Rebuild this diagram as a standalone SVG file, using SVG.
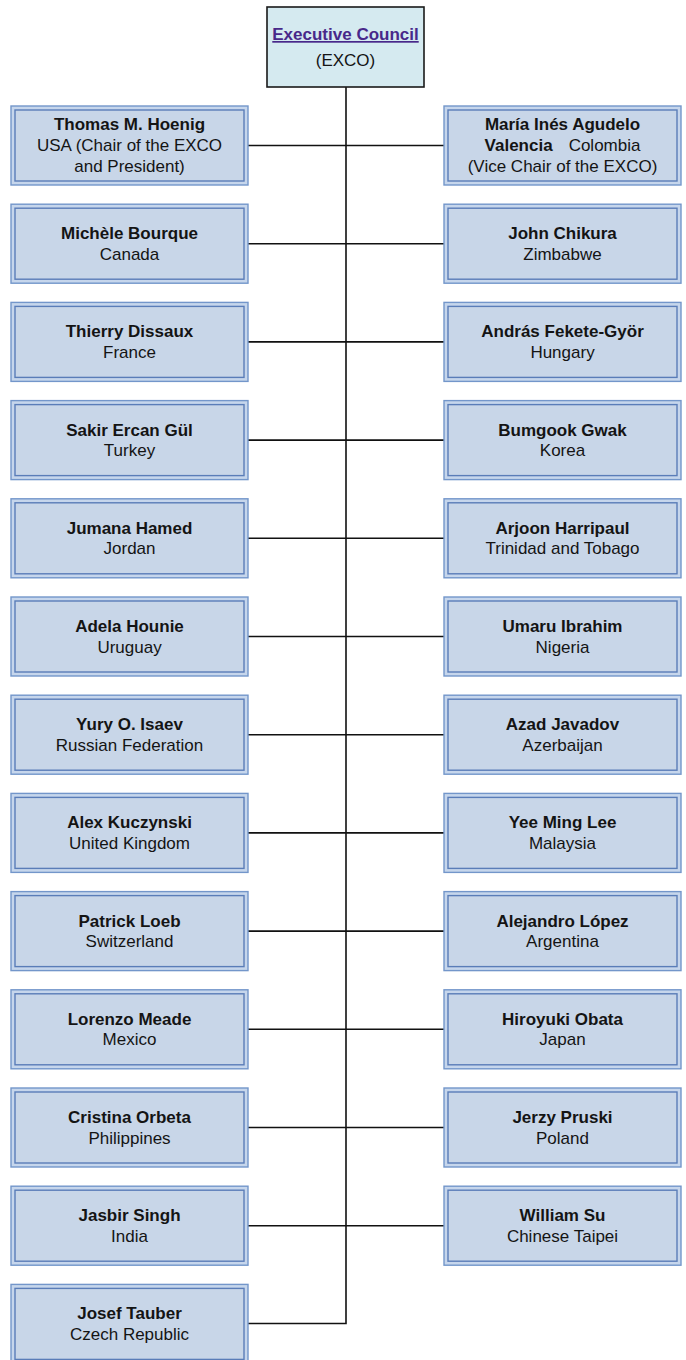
<svg xmlns="http://www.w3.org/2000/svg" width="686" height="1360" viewBox="0 0 686 1360">
<style>
.bg{fill:#ffffff}
.top{fill:#d5eaf0;stroke:#1a1a1a;stroke-width:1.6}
.out{fill:#c6d6ec;stroke:#7396ca;stroke-width:1.4}
.inn{fill:#c8d6e8;stroke:#5a7db8;stroke-width:1.4}
text{font-family:"Liberation Sans",Arial,sans-serif;font-size:17px;fill:#141414;text-anchor:middle}
.b{font-weight:bold}
.ttl{font-weight:bold;fill:#48288a;text-decoration:underline}
.conn{fill:none;stroke:#111111;stroke-width:1.6}
</style>
<rect class="bg" x="0" y="0" width="686" height="1360"/>
<g id="connectors">
<path class="conn" d="M346,87 V1323.5 H248"/>
<path class="conn" d="M248,145.5 H444 M248,243.7 H444 M248,341.9 H444 M248,440.1 H444 M248,538.3 H444 M248,636.5 H444 M248,734.7 H444 M248,832.9 H444 M248,931.1 H444 M248,1029.3 H444 M248,1127.5 H444 M248,1225.7 H444"/>
</g>
<g id="exco">
<rect class="top" x="267" y="7" width="157" height="80"/>
<text class="ttl" x="345.5" y="40">Executive Council</text>
<text x="345.5" y="66">(EXCO)</text>
</g>
<defs>
<g id="boxL"><rect class="out" x="0" y="0" width="237" height="79"/><rect class="inn" x="4" y="4" width="229" height="71"/></g>
</defs>
<g id="hoenig" transform="translate(11,106)"><use href="#boxL"/><g transform="translate(118.5,0)"><text class="b" x="0" y="24">Thomas M. Hoenig</text><text x="0" y="45">USA (Chair of the EXCO</text><text x="0" y="66">and President)</text></g></g>
<g id="bourque" transform="translate(11,204.2)"><use href="#boxL"/><g transform="translate(118.5,0)"><text class="b" x="0" y="35">Michèle Bourque</text><text x="0" y="55.5">Canada</text></g></g>
<g id="dissaux" transform="translate(11,302.4)"><use href="#boxL"/><g transform="translate(118.5,0)"><text class="b" x="0" y="35">Thierry Dissaux</text><text x="0" y="55.5">France</text></g></g>
<g id="gul" transform="translate(11,400.6)"><use href="#boxL"/><g transform="translate(118.5,0)"><text class="b" x="0" y="35">Sakir Ercan Gül</text><text x="0" y="55.5">Turkey</text></g></g>
<g id="hamed" transform="translate(11,498.8)"><use href="#boxL"/><g transform="translate(118.5,0)"><text class="b" x="0" y="35">Jumana Hamed</text><text x="0" y="55.5">Jordan</text></g></g>
<g id="hounie" transform="translate(11,597)"><use href="#boxL"/><g transform="translate(118.5,0)"><text class="b" x="0" y="35">Adela Hounie</text><text x="0" y="55.5">Uruguay</text></g></g>
<g id="isaev" transform="translate(11,695.2)"><use href="#boxL"/><g transform="translate(118.5,0)"><text class="b" x="0" y="35">Yury O. Isaev</text><text x="0" y="55.5">Russian Federation</text></g></g>
<g id="kuczynski" transform="translate(11,793.4)"><use href="#boxL"/><g transform="translate(118.5,0)"><text class="b" x="0" y="35">Alex Kuczynski</text><text x="0" y="55.5">United Kingdom</text></g></g>
<g id="loeb" transform="translate(11,891.6)"><use href="#boxL"/><g transform="translate(118.5,0)"><text class="b" x="0" y="35">Patrick Loeb</text><text x="0" y="55.5">Switzerland</text></g></g>
<g id="meade" transform="translate(11,989.8)"><use href="#boxL"/><g transform="translate(118.5,0)"><text class="b" x="0" y="35">Lorenzo Meade</text><text x="0" y="55.5">Mexico</text></g></g>
<g id="orbeta" transform="translate(11,1088)"><use href="#boxL"/><g transform="translate(118.5,0)"><text class="b" x="0" y="35">Cristina Orbeta</text><text x="0" y="55.5">Philippines</text></g></g>
<g id="singh" transform="translate(11,1186.2)"><use href="#boxL"/><g transform="translate(118.5,0)"><text class="b" x="0" y="35">Jasbir Singh</text><text x="0" y="55.5">India</text></g></g>
<g id="tauber" transform="translate(11,1284.4)"><use href="#boxL"/><g transform="translate(118.5,0)"><text class="b" x="0" y="35">Josef Tauber</text><text x="0" y="55.5">Czech Republic</text></g></g>
<g id="agudelo" transform="translate(444,106)"><use href="#boxL"/><g transform="translate(118.5,0)"><text class="b" x="0" y="24">María Inés Agudelo</text><text x="0" y="45"><tspan class="b">Valencia</tspan><tspan dx="16">Colombia</tspan></text><text x="0" y="66">(Vice Chair of the EXCO)</text></g></g>
<g id="chikura" transform="translate(444,204.2)"><use href="#boxL"/><g transform="translate(118.5,0)"><text class="b" x="0" y="35">John Chikura</text><text x="0" y="55.5">Zimbabwe</text></g></g>
<g id="fekete" transform="translate(444,302.4)"><use href="#boxL"/><g transform="translate(118.5,0)"><text class="b" x="0" y="35">András Fekete-Györ</text><text x="0" y="55.5">Hungary</text></g></g>
<g id="gwak" transform="translate(444,400.6)"><use href="#boxL"/><g transform="translate(118.5,0)"><text class="b" x="0" y="35">Bumgook Gwak</text><text x="0" y="55.5">Korea</text></g></g>
<g id="harripaul" transform="translate(444,498.8)"><use href="#boxL"/><g transform="translate(118.5,0)"><text class="b" x="0" y="35">Arjoon Harripaul</text><text x="0" y="55.5">Trinidad and Tobago</text></g></g>
<g id="ibrahim" transform="translate(444,597)"><use href="#boxL"/><g transform="translate(118.5,0)"><text class="b" x="0" y="35">Umaru Ibrahim</text><text x="0" y="55.5">Nigeria</text></g></g>
<g id="javadov" transform="translate(444,695.2)"><use href="#boxL"/><g transform="translate(118.5,0)"><text class="b" x="0" y="35">Azad Javadov</text><text x="0" y="55.5">Azerbaijan</text></g></g>
<g id="lee" transform="translate(444,793.4)"><use href="#boxL"/><g transform="translate(118.5,0)"><text class="b" x="0" y="35">Yee Ming Lee</text><text x="0" y="55.5">Malaysia</text></g></g>
<g id="lopez" transform="translate(444,891.6)"><use href="#boxL"/><g transform="translate(118.5,0)"><text class="b" x="0" y="35">Alejandro López</text><text x="0" y="55.5">Argentina</text></g></g>
<g id="obata" transform="translate(444,989.8)"><use href="#boxL"/><g transform="translate(118.5,0)"><text class="b" x="0" y="35">Hiroyuki Obata</text><text x="0" y="55.5">Japan</text></g></g>
<g id="pruski" transform="translate(444,1088)"><use href="#boxL"/><g transform="translate(118.5,0)"><text class="b" x="0" y="35">Jerzy Pruski</text><text x="0" y="55.5">Poland</text></g></g>
<g id="su" transform="translate(444,1186.2)"><use href="#boxL"/><g transform="translate(118.5,0)"><text class="b" x="0" y="35">William Su</text><text x="0" y="55.5">Chinese Taipei</text></g></g>
</svg>
